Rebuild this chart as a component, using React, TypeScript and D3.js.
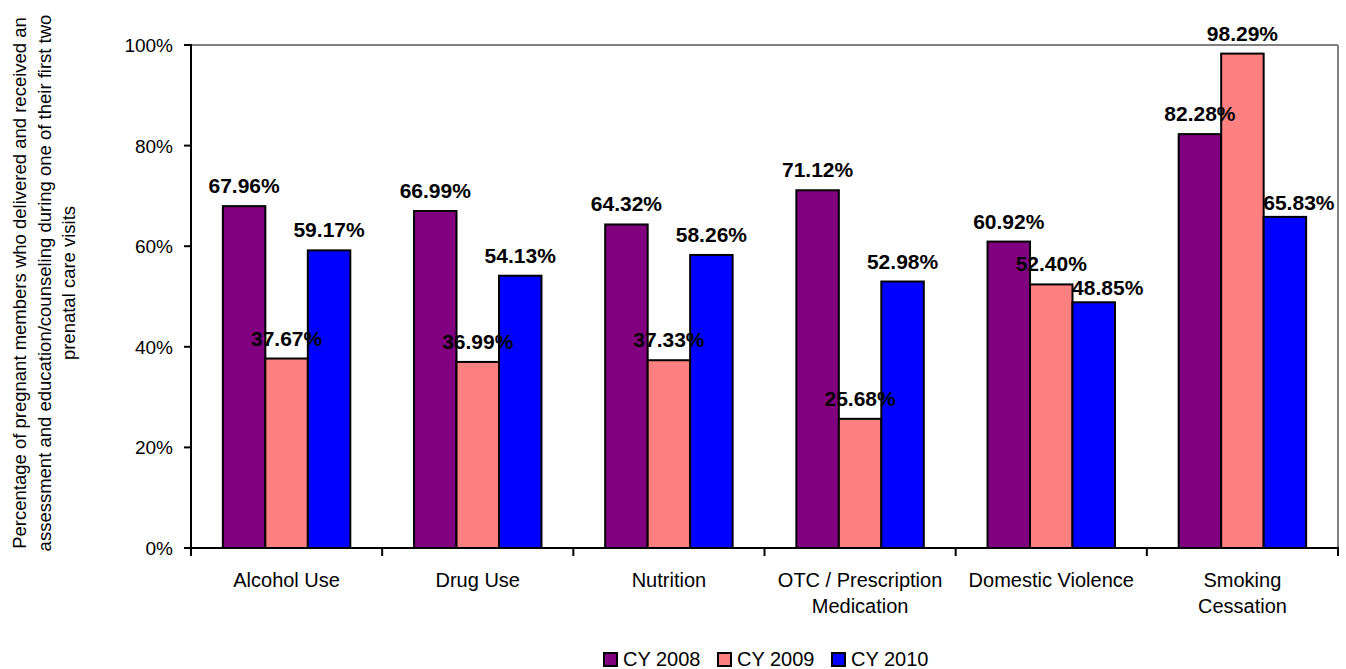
import React from "react";
import * as d3 from "d3";

const categories = [
  ["Alcohol Use"],
  ["Drug Use"],
  ["Nutrition"],
  ["OTC / Prescription", "Medication"],
  ["Domestic Violence"],
  ["Smoking", "Cessation"],
];
const seriesNames = ["CY 2008", "CY 2009", "CY 2010"];
const cy2008 = [67.96, 66.99, 64.32, 71.12, 60.92, 82.28];
const cy2009 = [37.67, 36.99, 37.33, 25.68, 52.4, 98.29];
const cy2010 = [59.17, 54.13, 58.26, 52.98, 48.85, 65.83];
const yTicks = [0, 20, 40, 60, 80, 100];
const yTitle = [
  "Percentage of pregnant members who delivered and received an",
  "assessment and education/counseling during one of their first two",
  "prenatal care visits",
];
const colors = ["#800080", "#FF8080", "#0000FF"];

const W = 1346;
const H = 669;
const L = 191, R = 1338, T = 45, B = 548;
const FONT = "'Liberation Sans', Arial, Helvetica, sans-serif";
const LABEL_W = 72;

export default function App() {
  const series = [cy2008, cy2009, cy2010];
  const x = d3.scaleBand<number>().domain(d3.range(categories.length)).range([L, R]).paddingInner(0).paddingOuter(0);
  const bw = x.bandwidth() / 4.5;
  const x1 = d3.scaleBand<number>().domain([0, 1, 2]).range([0, bw * 3]);
  const y = d3.scaleLinear().domain([0, 100]).range([B, T]);
  const gap = (x.bandwidth() - bw * 3) / 2;
  const barX = (si: number, ci: number) => (x(ci) as number) + gap + (x1(si) as number);

  // label layout: centred above bar; the last series' label is nudged right/lower when the bar before it is taller
  const labels: { key: string; x: number; y: number; text: string }[] = [];
  series.forEach((vals, si) =>
    vals.forEach((v, ci) => {
      let cx = barX(si, ci) + bw / 2;
      let by = y(v) - 13;
      if (si === series.length - 1) {
        const pv = series[si - 1][ci];
        const prevRight = barX(si - 1, ci) + bw;
        const prevTop = y(pv);
        if (cx - LABEL_W / 2 < prevRight && by > prevTop) {
          cx += 14;
          by = y(v) - 7;
        }
      }
      labels.push({ key: `l${si}-${ci}`, x: cx, y: by, text: `${v.toFixed(2)}%` });
    })
  );

  return (
    <svg width={W} height={H} style={{ position: "absolute", left: 0, top: 0, background: "#fff" }} fontFamily={FONT}>
      <rect x={0} y={0} width={W} height={H} fill="#fff" />
      {/* frame top/right */}
      <line x1={L} x2={R} y1={T} y2={T} stroke="#808080" strokeWidth={2} />
      <line x1={R} x2={R} y1={T} y2={B} stroke="#808080" strokeWidth={2} />
      {/* bars */}
      {series.map((vals, si) =>
        vals.map((v, ci) => (
          <rect key={`b${si}-${ci}`} x={barX(si, ci)} y={y(v)} width={bw} height={B - y(v)} fill={colors[si]} stroke="#000" strokeWidth={2} />
        ))
      )}
      {/* axes */}
      <line x1={L} x2={L} y1={T - 1} y2={B + 1} stroke="#000" strokeWidth={2} />
      <line x1={L - 7} x2={R + 1} y1={B} y2={B} stroke="#000" strokeWidth={2} />
      {yTicks.map((t) => (
        <g key={`yt${t}`}>
          <line x1={L - 7} x2={L} y1={y(t)} y2={y(t)} stroke="#000" strokeWidth={2} />
          <text x={L - 18} y={y(t) + 7} textAnchor="end" fontSize={19} fill="#000">{t}%</text>
        </g>
      ))}
      {d3.range(categories.length + 1).map((i) => {
        const tx = i < categories.length ? (x(i) as number) : R;
        return <line key={`xt${i}`} x1={tx} x2={tx} y1={B} y2={B + 8} stroke="#000" strokeWidth={2} />;
      })}
      {categories.map((lines, ci) => (
        <text key={`c${ci}`} x={(x(ci) as number) + x.bandwidth() / 2} y={B + 38.5} textAnchor="middle" fontSize={20} fill="#000">
          {lines.map((ln, li) => (
            <tspan key={li} x={(x(ci) as number) + x.bandwidth() / 2} dy={li === 0 ? 0 : 26.7}>{ln}</tspan>
          ))}
        </text>
      ))}
      {/* data labels */}
      {labels.map((l) => (
        <text key={l.key} x={l.x} y={l.y} textAnchor="middle" fontSize={21} fontWeight="bold" fill="#000">
          {l.text}
        </text>
      ))}
      {/* y title */}
      <text transform={`translate(0,283) rotate(-90)`} textAnchor="middle" fontSize={18.5} fill="#000">
        {yTitle.map((ln, i) => (
          <tspan key={i} x={0} y={26 + i * 24.5}>{ln}</tspan>
        ))}
      </text>
      {/* legend */}
      {seriesNames.map((n, i) => {
        const lx = 604 + i * 114;
        return (
          <g key={`lg${i}`}>
            <rect x={lx} y={653} width={13} height={13} fill={colors[i]} stroke="#000" strokeWidth={2} />
            <text x={lx + 19} y={666} fontSize={20} fill="#000">{n}</text>
          </g>
        );
      })}
    </svg>
  );
}
